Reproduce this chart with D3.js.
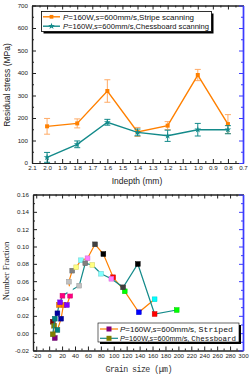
<!DOCTYPE html>
<html><head><meta charset="utf-8">
<script src="https://cdn.jsdelivr.net/npm/d3@7"></script>
<style>body{margin:0;background:#fff}svg{display:block}</style>
</head><body><svg id="c" width="251" height="375"></svg>
<script>
// ---------- data ----------
const depths = [2.0, 1.8, 1.6, 1.4, 1.2, 1.0, 0.8];
const stripeStress = [163, 176, 320, 138, 166, 391, 173];
const stripeErr = [35, 20, 50, 20, 18, 25, 42];
const chessStress = [25, 83, 181, 136, 121, 148, 148];
const chessErr = [22, 15, 13, 15, 25, 28, 18];
const depthTicks = [2.1, 2.0, 1.9, 1.8, 1.7, 1.6, 1.5, 1.4, 1.3, 1.2, 1.1, 1.0, 0.9, 0.8, 0.7];
const stressTicks = [0, 100, 200, 300, 400, 500, 600, 700];

const stripedSize = [8.7, 5.6, 7.7, 12.8, 18.5, 22.1, 27.4, 32.5, 31.8, 30.5, 35.7, 41.9, 49.2, 59.4, 71, 83.9, 99, 117, 138.8, 163.2];
const stripedFrac = [-0.0056, 0.0132, 0.0086, 0.0037, 0.0167, 0.0325, 0.0325, 0.0432, 0.051, 0.0594, 0.0721, 0.076, 0.0841, 0.0864, 0.1025, 0.0913, 0.0645, 0.0483, 0.0241, 0.0391];
const chessSize = [5.6, 8.7, 12.8, 15, 17, 20.6, 32.5, 46.5, 55.9, 66.8, 80.3, 96.3, 114.5, 137.2, 163.2, 197.4];
const chessFrac = [-0.0013, 0.0167, 0.0229, 0.0325, 0.0356, 0.0432, 0.0487, 0.0548, 0.0806, 0.0787, 0.0686, 0.0628, 0.0529, 0.0798, 0.0221, 0.0267];
const grainTicks = [-20, 0, 20, 40, 60, 80, 100, 120, 140, 160, 180, 200, 220, 240, 260, 280, 300];
const fracTicks = [-0.02, 0, 0.02, 0.04, 0.06, 0.08, 0.10, 0.12, 0.14, 0.16];

// ---------- style ----------
const ORANGE = "#ff8000", TEAL = "#138a8a", BLUE = "#3b3bff";
const palette = ["#000000","#ff0000","#00ff00","#0000ff","#00ffff","#ff00ff","#ffff00","#808000","#000080","#800080","#800000","#808000","#008080","#0000a0","#ff8000","#8000ff","#ff0080","#ffffff","#c0c0c0","#808080","#ffff80","#80ffff","#ff80ff","#404040"];
const stripedStart = 10, chessStart = 12;
const pcol = (start, i) => palette[(start - 1 + i) % 24];
const FONT = "Liberation Sans, Arial, sans-serif";

const svg = d3.select("#c");

function frame(x, y, xt, yt, xMinor, yMinor, xfmt, yfmt) {
  const [x0, x1] = x.range(), [y0, y1] = y.range();
  const g = svg.append("g");
  g.append("g").attr("transform", `translate(0,${y0})`)
    .call(d3.axisBottom(x).tickValues(xt).tickFormat(xfmt).tickSizeInner(-4).tickSizeOuter(0).tickPadding(3));
  g.append("g").attr("transform", `translate(0,${y0})`)
    .call(d3.axisBottom(x).tickValues(xMinor).tickFormat("").tickSizeInner(-2).tickSizeOuter(0));
  g.append("g").attr("transform", `translate(${x0},0)`)
    .call(d3.axisLeft(y).tickValues(yt).tickFormat(yfmt).tickSizeInner(-4).tickSizeOuter(0).tickPadding(4));
  g.append("g").attr("transform", `translate(${x0},0)`)
    .call(d3.axisLeft(y).tickValues(yMinor).tickFormat("").tickSizeInner(-2).tickSizeOuter(0));
  g.append("g").attr("transform", `translate(0,${y1})`)
    .call(d3.axisTop(x).tickValues(xt).tickFormat("").tickSizeInner(-4).tickSizeOuter(0));
  g.append("g").attr("transform", `translate(0,${y1})`)
    .call(d3.axisTop(x).tickValues(xMinor).tickFormat("").tickSizeInner(-2).tickSizeOuter(0));
  const r1 = g.append("g").attr("transform", `translate(${x1},0)`)
    .call(d3.axisRight(y).tickValues(yt).tickFormat("").tickSizeInner(-4).tickSizeOuter(0));
  const r2 = g.append("g").attr("transform", `translate(${x1},0)`)
    .call(d3.axisRight(y).tickValues(yMinor).tickFormat("").tickSizeInner(-2).tickSizeOuter(0));
  g.selectAll("text").attr("font-family", FONT).attr("font-size", 6.2).attr("fill", "#222");
  g.selectAll("line").attr("stroke", "#222");
  g.selectAll("path.domain").attr("stroke", "#222").attr("stroke-width", 1.2);
  [r1, r2].forEach(r => { r.selectAll("line").attr("stroke", BLUE); r.selectAll("path.domain").attr("stroke", BLUE).attr("stroke-width", 1.4); });
  return g;
}

// ================= TOP CHART =================
const x1 = d3.scaleLinear().domain([2.1, 0.7]).range([32, 243]);
const y1 = d3.scaleLinear().domain([0, 700]).range([163, 5.5]);
frame(x1, y1, depthTicks, stressTicks,
  depthTicks.slice(0, -1).map(d => d - 0.05),
  stressTicks.slice(0, -1).map(d => d + 50),
  d => d.toFixed(1), d => d);

function errSeries(vals, errs, color, errColor, marker) {
  const g = svg.append("g");
  const pts = depths.map((d, i) => [x1(d), y1(vals[i]), y1(vals[i] + errs[i]), y1(vals[i] - errs[i])]);
  pts.forEach(p => {
    g.append("line").attr("x1", p[0]).attr("x2", p[0]).attr("y1", p[2]).attr("y2", p[3]).attr("stroke", errColor).attr("stroke-width", 1);
    [p[2], p[3]].forEach(yy => g.append("line").attr("x1", p[0] - 3).attr("x2", p[0] + 3).attr("y1", yy).attr("y2", yy).attr("stroke", errColor).attr("stroke-width", 1));
  });
  g.append("path").attr("d", d3.line()(pts.map(p => [p[0], p[1]]))).attr("fill", "none").attr("stroke", color).attr("stroke-width", 1.4);
  pts.forEach(p => g.append("path").attr("transform", `translate(${p[0]},${p[1]})`)
    .attr("d", d3.symbol().type(marker).size(marker === d3.symbolSquare ? 16 : 14)()).attr("fill", color));
}
errSeries(stripeStress, stripeErr, ORANGE, "#ffab66", d3.symbolSquare);
errSeries(chessStress, chessErr, TEAL, TEAL, d3.symbolStar);

svg.append("text").attr("x", 137).attr("y", 184).attr("text-anchor", "middle")
  .attr("font-family", FONT).attr("font-size", 8.5).attr("fill", "#222").text("Indepth (mm)");
svg.append("text").attr("transform", "translate(10,85) rotate(-90)").attr("text-anchor", "middle")
  .attr("font-family", FONT).attr("font-size", 8.5).attr("fill", "#222").text("Residual stress (MPa)");

// legend top
(function () {
  const g = svg.append("g");
  g.append("rect").attr("x", 43.5).attr("y", 13.5).attr("width", 170).attr("height", 20).attr("fill", "#000");
  g.append("rect").attr("x", 41.5).attr("y", 11.5).attr("width", 170).attr("height", 20).attr("fill", "#fff").attr("stroke", "#000").attr("stroke-width", 0.8);
  const rows = [[16.8, ORANGE, d3.symbolSquare, "Stripe scanning", 131], [26.2, TEAL, d3.symbolStar, "Chessboard scanning", 146]];
  rows.forEach(r => {
    g.append("line").attr("x1", 43).attr("x2", 60).attr("y1", r[0]).attr("y2", r[0]).attr("stroke", r[1]).attr("stroke-width", 1.4);
    g.append("path").attr("transform", `translate(51.5,${r[0]})`).attr("d", d3.symbol().type(r[2]).size(14)()).attr("fill", r[1]);
    const t = g.append("text").attr("x", 63).attr("y", r[0] + 3).attr("font-family", FONT).attr("font-size", 8)
      .attr("fill", "#111").attr("textLength", r[4]).attr("lengthAdjust", "spacingAndGlyphs");
    t.append("tspan").attr("font-style", "italic").text("P");
    t.append("tspan").text("=160W,");
    t.append("tspan").attr("font-style", "italic").text("s");
    t.append("tspan").text("=600mm/s," + r[3]);
  });
})();

// ================= BOTTOM CHART =================
const x2 = d3.scaleLinear().domain([-25, 300]).range([33, 243]);
const y2 = d3.scaleLinear().domain([-0.02, 0.16]).range([350.5, 194.5]);
frame(x2, y2, grainTicks, fracTicks,
  grainTicks.slice(0, -1).map(d => d + 10),
  fracTicks.slice(0, -1).map(d => d + 0.01),
  d => d, d => d.toFixed(2));

function grainSeries(xs, ys, lineColor, start) {
  const g = svg.append("g");
  const pts = xs.map((v, i) => [x2(v), y2(ys[i])]);
  g.append("path").attr("d", d3.line()(pts)).attr("fill", "none").attr("stroke", lineColor).attr("stroke-width", 1.2);
  pts.forEach((p, i) => {
    const c = pcol(start, i);
    g.append("rect").attr("x", p[0] - 2.4).attr("y", p[1] - 2.4).attr("width", 4.8).attr("height", 4.8)
      .attr("fill", c).attr("stroke", c === "#ffffff" ? "#ffffff" : d3.color(c).darker(0.6)).attr("stroke-width", 0.5);
  });
}
grainSeries(stripedSize, stripedFrac, ORANGE, stripedStart);
grainSeries(chessSize, chessFrac, TEAL, chessStart);

svg.append("text").attr("x", 139).attr("y", 372).attr("text-anchor", "middle")
  .attr("font-family", "Liberation Mono, monospace").attr("font-size", 8.3).attr("fill", "#333")
  .attr("textLength", 67).text("Grain size (μm)");
svg.append("text").attr("transform", "translate(9,271) rotate(-90)").attr("text-anchor", "middle")
  .attr("font-family", "Liberation Serif, Times New Roman, serif").attr("font-size", 8.5).attr("fill", "#222").text("Number Fraction");

// legend bottom
(function () {
  const g = svg.append("g");
  g.append("rect").attr("x", 100).attr("y", 325).attr("width", 141).attr("height", 19).attr("fill", "#000");
  g.append("rect").attr("x", 98).attr("y", 323).attr("width", 141).attr("height", 19).attr("fill", "#fff").attr("stroke", "#000").attr("stroke-width", 0.6);
  const rows = [[329, ORANGE, pcol(stripedStart, 0), "Striped", 113], [338.3, TEAL, pcol(chessStart, 0), "Chessboard", 116]];
  rows.forEach(r => {
    g.append("line").attr("x1", 100).attr("x2", 118).attr("y1", r[0]).attr("y2", r[0]).attr("stroke", r[1]).attr("stroke-width", 1.2);
    g.append("rect").attr("x", 106.5).attr("y", r[0] - 2.5).attr("width", 5).attr("height", 5).attr("fill", r[2]);
    const t = g.append("text").attr("x", 120).attr("y", r[0] + 2.8).attr("font-family", FONT).attr("font-size", 7.4)
      .attr("fill", "#111").attr("textLength", r[4]).attr("lengthAdjust", "spacingAndGlyphs");
    t.append("tspan").attr("font-style", "italic").text("P");
    t.append("tspan").text("=160W,");
    t.append("tspan").attr("font-style", "italic").text("s");
    t.append("tspan").text("=600mm/s, ");
    t.append("tspan").attr("font-family", "Liberation Mono, monospace").attr("font-size", 7.6).text(r[3]);
  });
})();
</script></body></html>
